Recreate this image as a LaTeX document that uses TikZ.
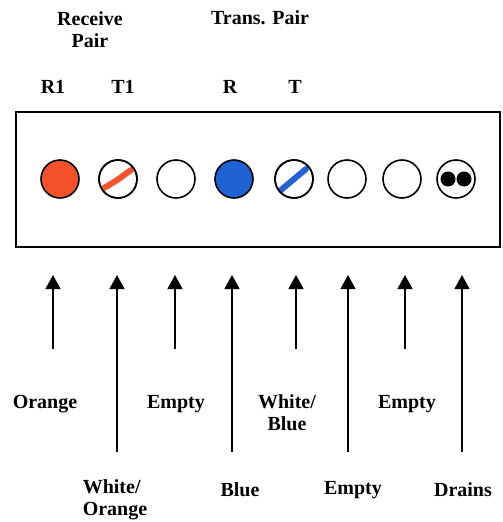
\documentclass[tikz,border=0pt]{standalone}
\usepackage{fontspec}
\setmainfont{Liberation Serif}
\usetikzlibrary{arrows.meta}
\definecolor{pinorange}{HTML}{F5512B}
\definecolor{pinblue}{HTML}{1F62D6}
\tikzset{
  lbl/.style={font=\fontsize{20}{22}\selectfont\bfseries, align=center, inner sep=0pt},
  pin/.style={circle, draw=black, line width=1.6pt, minimum size=38pt, inner sep=0pt, fill=white},
  ring/.style={circle, draw=black, line width=1.6pt, minimum size=38pt, inner sep=0pt},
  drain/.style={circle, fill=black, minimum size=15pt, inner sep=0pt},
  uparrow/.style={line width=1.2pt, -{Triangle[width=15pt,length=14pt]}},
  stripe/.style={line width=6pt, line cap=round}
}
\begin{document}
\begin{tikzpicture}[x=1pt,y=-1pt]
\useasboundingbox (0,0) rectangle (503,522);
% labels on top
\node[lbl] (recv) at (90,30) {Receive\\Pair};
\node[lbl] (trans) at (260,18) {Trans. Pair};
\node[lbl] (r1) at (53,87) {R1};
\node[lbl] (t1) at (123,87) {T1};
\node[lbl] (r) at (230,87) {R};
\node[lbl] (t) at (295,87) {T};
% box
\node[draw=black, line width=1.3pt, minimum width=484pt, minimum height=135pt, inner sep=0pt] (box) at (258,179.5) {};
% pins
\node[pin, fill=pinorange] (c1) at (60,179) {};
\node[pin] (c2) at (118,179) {};
\node[pin] (c3) at (176,179) {};
\node[pin, fill=pinblue] (c4) at (234,179) {};
\node[pin] (c5) at (294,179) {};
\node[pin] (c6) at (347,179) {};
\node[pin] (c7) at (402,179) {};
\node[pin] (c8) at (456,179) {};
% stripes
\draw[stripe, pinorange] ([shift={(-14,9)}]c2.center) .. controls ([shift={(-2,2)}]c2.center) .. ([shift={(13,-9)}]c2.center);
\draw[stripe, pinblue] ([shift={(-13,11)}]c5.center) .. controls ([shift={(-1,1)}]c5.center) .. ([shift={(12,-10)}]c5.center);
\node[ring] at (c2) {};
\node[ring] at (c5) {};
% drains dots
\node[drain] (d1) at ([xshift=-8pt]c8.center) {};
\node[drain] (d2) at ([xshift=8pt]c8.center) {};
% arrow coordinates
\foreach \i/\x/\yb in {1/53/349, 2/117/452, 3/175/349, 4/232/452, 5/296/349, 6/348/452, 7/405/349, 8/462/452}{
  \coordinate (a\i top) at (\x,275);
  \coordinate (a\i bot) at (\x,\yb);
}
\foreach \i in {1,...,8}{
  \draw[uparrow] (a\i bot) -- (a\i top);
}
% bottom labels
\node[lbl] (l1) at (45,404) {Orange};
\node[lbl] (l3) at (176,404) {Empty};
\node[lbl] (l5) at (287,413) {White/\\Blue};
\node[lbl] (l7) at (407,404) {Empty};
\node[lbl, align=left] (l2) at (115,500) {White/\\Orange};
\node[lbl] (l4) at (240,490) {Blue};
\node[lbl] (l6) at (353,490) {Empty};
\node[lbl] (l8) at (463,490) {Drains};
\end{tikzpicture}
\end{document}
